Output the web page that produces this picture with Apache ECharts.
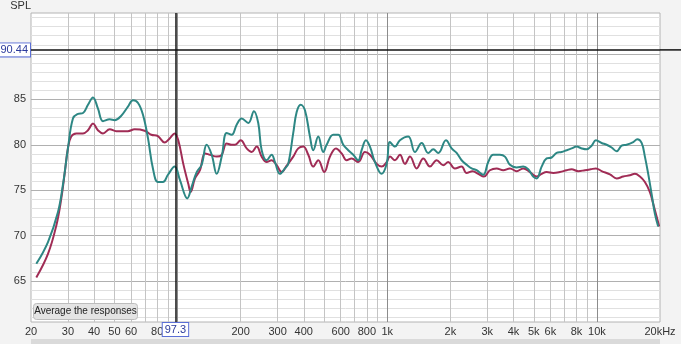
<!DOCTYPE html>
<html>
<head>
<meta charset="utf-8">
<title>SPL</title>
<style>
html, body { margin: 0; padding: 0; background: #f3f3f3; }
#div_chart { width: 681px; height: 344px; }
</style>
<script src="https://cdn.jsdelivr.net/npm/echarts@6/dist/echarts.min.js"></script>
</head>
<body>
<div id="div_chart"></div>
<script>
// 响应曲线 (Hz / dB)
var tealFreq = [21.2, 24.1, 26.9, 28.4, 30.0, 31.7, 33.5, 35.4, 37.4, 39.5, 41.7, 44.1, 47.5, 50.1, 53.9, 58.0, 61.3, 64.8, 68.4, 72.3,
    76.3, 80.6, 85.2, 90.0, 96.9, 102.7, 111.3, 116.8, 123.4, 130.3, 137.7, 145.5, 153.7, 162.4, 171.5, 181.2, 191.4, 202.2, 217.4, 231.4,
    242.6, 251.9, 266.1, 281.1, 291.5, 307.9, 325.3, 337.3, 356.3, 369.9, 386.5, 405.2, 428.1, 443.9, 468.9, 495.4, 514.2, 552.8, 584.0, 617.0,
    651.8, 688.7, 727.5, 755.1, 791.7, 827.2, 873.9, 940.7, 993.7, 1030, 1089, 1150, 1260, 1356, 1460, 1569, 1658, 1752, 1906, 2029,
    2143, 2264, 2392, 2527, 2669, 2870, 3032, 3204, 3448, 3643, 3848, 4143, 4453, 4705, 4971, 5160, 5451, 5759, 6084, 6426,
    6788, 7171, 7575, 8004, 8456, 8933, 9438, 9894, 10532, 11128, 11758, 12424, 13124, 13864, 14908, 15578, 16346, 16944, 17570, 18238,
    18914, 19608];
var tealSpl = [66.9, 69.3, 72.6, 75.6, 79.6, 82.9, 83.4, 83.5, 84.4, 85.2, 84.0, 82.6, 82.8, 82.7, 83.2, 84.2, 84.9, 84.6, 83.3, 80.7,
    77.4, 75.9, 75.9, 76.7, 77.6, 76.1, 74.1, 75.4, 77.0, 77.8, 80.0, 78.9, 76.8, 78.7, 81.3, 81.1, 82.2, 82.9, 82.4, 83.7,
    82.4, 79.4, 78.3, 78.9, 78.1, 76.8, 77.4, 77.9, 81.3, 83.6, 84.4, 83.8, 80.9, 79.4, 80.9, 79.2, 80.0, 81.1, 81.1, 80.0,
    79.4, 78.9, 78.3, 79.4, 80.5, 79.8, 78.1, 76.8, 77.9, 80.3, 79.8, 80.5, 80.9, 79.2, 80.2, 79.1, 79.5, 79.1, 80.5, 79.6,
    79.1, 78.3, 77.8, 77.4, 77.2, 76.7, 78.1, 78.9, 78.9, 78.7, 77.8, 77.5, 77.6, 77.3, 76.5, 76.3, 77.6, 78.5, 78.6, 79.1,
    79.2, 79.4, 79.6, 79.8, 79.6, 79.5, 79.9, 80.5, 80.2, 80.0, 79.7, 79.3, 79.9, 80.0, 80.3, 80.6, 80.2, 78.7, 76.8, 74.6,
    72.4, 71.0];
var redFreq = [21.2, 24.1, 26.4, 27.9, 29.0, 30.0, 31.1, 32.9, 35.4, 37.4, 39.5, 41.7, 44.1, 47.5, 51.0, 58.0, 62.4, 69.7, 74.9, 80.6,
    86.8, 91.7, 96.9, 100.8, 106.5, 112.5, 115.5, 121.1, 127.9, 135.2, 142.8, 153.7, 162.4, 171.5, 181.2, 187.9, 200, 213.6, 225.7, 238.4,
    251.9, 266.1, 281.1, 297.0, 313.7, 331.4, 356.3, 376.5, 397.7, 420.2, 443.9, 468.9, 500.8, 533.1, 569.5, 606.2, 640.4, 676.6, 727.5, 783.0,
    827.2, 890.4, 940.7, 993.7, 1030, 1089, 1150, 1215, 1284, 1382, 1486, 1599, 1721, 1850, 1955, 2103, 2264, 2392, 2554, 2717,
    2892, 3089, 3325, 3576, 3848, 4143, 4453, 4794, 5160, 5451, 5759, 6191, 6663, 7171, 7575, 8146, 8768, 9336, 9894, 10532,
    11540, 12424, 13356, 14378, 15188, 16044, 16944, 17900, 18564, 19270, 19826];
var redSpl = [65.4, 68.0, 71.1, 74.1, 77.0, 79.6, 80.9, 81.25, 81.25, 81.6, 82.35, 81.6, 81.25, 81.7, 81.5, 81.5, 81.7, 81.55, 81.1, 80.95,
    80.25, 80.7, 81.25, 80.5, 77.9, 75.7, 74.8, 76.3, 77.2, 79.05, 78.9, 78.7, 78.9, 80.15, 80.0, 80.0, 80.5, 79.6, 79.2, 79.8,
    78.7, 78.1, 78.3, 77.75, 77.0, 77.7, 78.7, 79.6, 79.8, 78.9, 77.6, 78.3, 77.0, 78.7, 79.6, 79.05, 78.3, 78.5, 78.1, 79.2,
    78.9, 77.9, 77.6, 78.1, 78.7, 78.3, 78.9, 77.9, 78.7, 77.4, 78.5, 77.6, 78.3, 77.75, 78.1, 77.4, 77.6, 76.9, 77.1, 76.8,
    76.5, 77.2, 77.4, 77.2, 77.4, 77.1, 77.4, 77.0, 76.5, 76.8, 77.0, 76.9, 77.0, 77.2, 77.3, 77.1, 77.2, 77.3, 77.4, 77.1,
    76.75, 76.3, 76.5, 76.65, 76.8, 76.5, 75.9, 74.8, 73.5, 72.1, 71.0];
// 刻度
var xGridHz = [30, 40, 50, 60, 70, 80, 90, 200, 300, 400, 500, 600, 700, 800, 900, 2000, 3000, 4000, 5000, 6000, 7000, 8000, 9000];
var xMajorHz = [100, 1000, 10000];
var xLabelHz = [20, 30, 40, 50, 60, 80, 200, 300, 400, 600, 800, 1000, 2000, 3000, 4000, 5000, 6000, 8000, 10000, 20000];
var yLabels = [65, 70, 75, 80, 85];
var yMajor = [65, 70, 75, 80, 85, 90];
var cursorHz = 97.3;
var cursorSpl = 90.44;

var appSplChart = {
    chart: null,
    el: 'div_chart',
    font: 'Liberation Sans',
    init: function init() {
        var that = this;
        that.chart = echarts.init(document.getElementById(that.el));
        that.chart.setOption(that.getOption());
        //光标横线延伸到右边
        var y = that.chart.convertToPixel({ yAxisIndex: 1 }, cursorSpl);
        var x = that.chart.convertToPixel({ xAxisIndex: 0 }, Math.log10(20000));
        that.chart.setOption({
            graphic: [that.getButton(), that.getScroll(), {
                type: 'line', z: 5,
                shape: { x1: x, y1: y, x2: 681, y2: y },
                style: { stroke: '#111', lineWidth: 1.5 }
            }]
        });
    },
    lg: function lg(arr) {
        return arr.map(function (f) { return Math.log10(f); });
    },
    toData: function toData(freq, spl) {
        var data = [];
        for (var i = 0; i < freq.length; i++) {
            data.push([Math.log10(freq[i]), spl[i]]);
        }
        return data;
    },
    hzLabel: function hzLabel(v) {
        var f = Math.round(Math.pow(10, v));
        if (f >= 20000) return '20kHz';
        if (f >= 1000) return (f / 1000) + 'k';
        return '' + f;
    },
    getButton: function getButton() {
        return {
            type: 'group', left: 33, top: 303, z: 100,
            children: [{
                type: 'rect', z: 100,
                shape: { x: 0, y: 0, width: 104, height: 16, r: 3 },
                style: { fill: '#e4e4e4', stroke: '#bdbdbd', lineWidth: 1 }
            }, {
                type: 'text', x: 52, y: 8, z: 101,
                style: {
                    text: 'Average the responses', fill: '#222', font: '10px "Liberation Sans"',
                    align: 'center', verticalAlign: 'middle'
                }
            }]
        };
    },
    getScroll: function getScroll() {
        return {
            type: 'rect', left: 31, top: 339, z: 1,
            shape: { width: 629, height: 5 },
            style: { fill: '#dadada' }
        };
    },
    getOption: function getOption() {
        var that = this;
        var yMinor = [];
        for (var d = 61; d <= 94; d++) {
            if (yMajor.indexOf(d) < 0) yMinor.push(d);
        }
        var font = that.font;
        var xMin = Math.log10(20), xMax = Math.log10(20000);
        return {
            animation: false,
            backgroundColor: '#f3f3f3',
            grid: {
                left: 31, right: 21, top: 13, bottom: 22,
                show: true, backgroundColor: '#ffffff', borderColor: '#b4b4b4', borderWidth: 1
            },
            xAxis: [{
                type: 'value', min: xMin, max: xMax,
                axisLine: { show: false },
                axisTick: { show: false, customValues: that.lg(xGridHz) },
                axisLabel: {
                    customValues: that.lg(xLabelHz), formatter: that.hzLabel,
                    color: '#333', fontSize: 11, fontFamily: font, margin: 4
                },
                splitLine: { lineStyle: { color: '#c4c4c4', width: 1 } }
            }, {
                type: 'value', min: xMin, max: xMax,
                axisLine: { show: false },
                axisTick: { show: false, customValues: that.lg(xMajorHz) },
                axisLabel: { show: false },
                splitLine: { lineStyle: { color: '#8c8c8c', width: 1 } }
            }],
            yAxis: [{
                type: 'value', min: 60.5, max: 94.5,
                axisLine: { show: false },
                axisTick: { show: false, customValues: yMinor },
                axisLabel: { show: false },
                splitLine: { lineStyle: { color: '#e0e0e0', width: 1 } }
            }, {
                type: 'value', min: 60.5, max: 94.5, position: 'left',
                name: 'SPL', nameLocation: 'end', nameGap: 2,
                nameTextStyle: { align: 'right', color: '#333', fontSize: 11, fontFamily: font },
                axisLine: { show: false },
                axisTick: { show: false, customValues: yMajor },
                axisLabel: { customValues: yLabels, color: '#333', fontSize: 11, fontFamily: font, margin: 5 },
                splitLine: { lineStyle: { color: '#b0b0b0', width: 1 } }
            }],
            series: [{
                name: 'red',
                type: 'line',
                xAxisIndex: 0, yAxisIndex: 1,
                data: that.toData(redFreq, redSpl),
                smooth: 0.4,
                showSymbol: false,
                lineStyle: { color: '#a02c55', width: 2 }
            }, {
                name: 'teal',
                type: 'line',
                xAxisIndex: 0, yAxisIndex: 1,
                data: that.toData(tealFreq, tealSpl),
                smooth: 0.4,
                showSymbol: false,
                lineStyle: { color: '#2d8784', width: 2 },
                markLine: {
                    silent: true,
                    symbol: 'none',
                    animation: false,
                    lineStyle: { color: '#111', width: 1.5, type: 'solid' },
                    label: {
                        position: 'start', distance: 1,
                        color: '#2b3a9c', fontSize: 11, fontFamily: font,
                        backgroundColor: '#ffffff', borderColor: '#5b6fd6', borderWidth: 1,
                        padding: [1, 2, 1, 2]
                    },
                    data: [
                        { xAxis: Math.log10(cursorHz), label: { formatter: '' + cursorHz } },
                        { yAxis: cursorSpl, label: { formatter: '' + cursorSpl } }
                    ]
                }
            }],
            graphic: [that.getButton(), that.getScroll()]
        };
    }
};
window.onload = function () {
    appSplChart.init();
};
</script>
</body>
</html>
